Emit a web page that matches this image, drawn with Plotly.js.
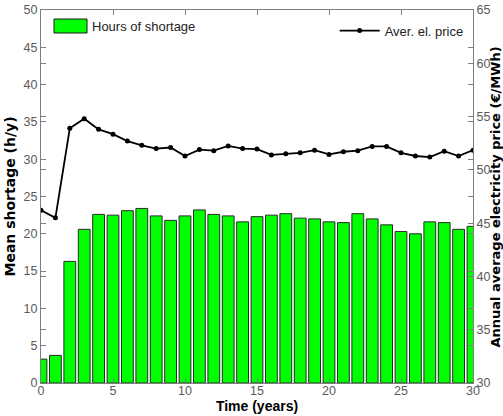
<!DOCTYPE html>
<html>
<head>
<meta charset="utf-8">
<script src="https://cdn.plot.ly/plotly-3.0.1.min.js"></script>
<style>html,body{margin:0;padding:0;background:#fff;}#chart{width:503px;height:416px;}</style>
</head>
<body>
<div id="chart"></div>
<script>
var years = [0,1,2,3,4,5,6,7,8,9,10,11,12,13,14,15,16,17,18,19,20,21,22,23,24,25,26,27,28,29,30];
var shortageHours = [3.2,3.7,16.3,20.6,22.6,22.5,23.1,23.4,22.4,21.8,22.4,23.2,22.6,22.4,21.6,22.3,22.5,22.7,22.1,22.0,21.6,21.5,22.7,22.0,21.2,20.3,20.0,21.6,21.5,20.6,21.0];
var avgPrice = [46.2,45.5,53.9,54.8,53.8,53.35,52.7,52.3,52.0,52.1,51.3,51.9,51.8,52.25,52.0,51.95,51.4,51.5,51.6,51.85,51.45,51.7,51.8,52.2,52.2,51.6,51.3,51.2,51.75,51.3,51.85];
var barLegendLabel = "Hours of shortage";
var lineLegendLabel = "Aver. el. price";
var xTitle = "Time (years)";
var yTitle = "Mean shortage (h/y)";
var y2Title = "Annual average electricity price (€/MWh)";

var font = "Liberation Sans, Arial, sans-serif";
var rotFont = "DejaVu Sans, sans-serif";
var axisCol = "#7f7f7f";
var tickCol = "#5a5a5a";

var traces = [
  {
    type: "bar", x: years, y: shortageHours, name: barLegendLabel,
    width: 0.82,
    marker: {color: "#00ff00", line: {color: "#2a2a2a", width: 1}},
    showlegend: false, yaxis: "y"
  },
  {
    type: "scatter", mode: "lines+markers", x: years, y: avgPrice, name: lineLegendLabel,
    line: {color: "#000000", width: 1.8},
    marker: {color: "#000000", size: 5},
    yaxis: "y2", legend: "legend2", showlegend: true
  }
];

var layout = {
  width: 503, height: 416,
  margin: {l: 41, r: 30, t: 10, b: 33, pad: 0},
  paper_bgcolor: "#ffffff", plot_bgcolor: "#ffffff",
  font: {family: font, size: 12.5, color: tickCol},
  bargap: 0,
  xaxis: {
    range: [0, 30], dtick: 5, tick0: 0,
    showgrid: false, zeroline: false,
    showline: true, linecolor: axisCol, linewidth: 1, mirror: "ticks",
    ticks: "inside", ticklen: 5, tickcolor: axisCol,
    ticklabelstandoff: -4,
    tickfont: {family: font, size: 12.5, color: tickCol},
    title: {text: xTitle, font: {family: font, size: 14, color: "#000", weight: "bold"}, standoff: 4},
    automargin: false
  },
  yaxis: {
    range: [0, 50], dtick: 5, tick0: 0,
    showgrid: false, zeroline: false,
    showline: true, linecolor: axisCol, linewidth: 1, mirror: "ticks",
    ticks: "inside", ticklen: 5, tickcolor: axisCol,
    tickfont: {family: font, size: 12.5, color: tickCol},
    title: {text: yTitle, font: {family: rotFont, size: 14, color: "#000", weight: "bold"}, standoff: 4},
    automargin: false
  },
  yaxis2: {
    range: [30, 65], dtick: 5, tick0: 30,
    overlaying: "y", side: "right",
    showgrid: false, zeroline: false,
    showline: true, linecolor: axisCol, linewidth: 1, mirror: "ticks",
    ticks: "inside", ticklen: 5, tickcolor: axisCol,
    tickfont: {family: font, size: 12.5, color: tickCol},
    automargin: false
  },
  legend2: {
    x: 0.99, y: 0.985, xanchor: "right", yanchor: "top",
    bgcolor: "rgba(255,255,255,0)", borderwidth: 0,
    itemwidth: 40,
    font: {family: font, size: 13, color: "#222"}
  },
  shapes: [
    {type: "rect", xref: "paper", yref: "paper",
     x0: 13/432, x1: 46/432, y0: 1 - 23/373, y1: 1 - 9/373,
     fillcolor: "#00ff00", line: {color: "#1a1a1a", width: 1}}
  ],
  annotations: [
    {xref: "paper", yref: "paper", x: 49/432, y: 1 - 16/373, xanchor: "left", yanchor: "middle",
     text: barLegendLabel, showarrow: false, font: {family: font, size: 13, color: "#222"}},
    {xref: "paper", yref: "paper", x: (495 - 41)/432, y: 0.5, xanchor: "center", yanchor: "middle",
     textangle: -90, text: y2Title, showarrow: false, borderpad: 0, borderwidth: 0,
     font: {family: rotFont, size: 13, color: "#000", weight: "bold"}}
  ]
};

Plotly.newPlot("chart", traces, layout, {displayModeBar: false, staticPlot: true});
</script>
</body>
</html>
